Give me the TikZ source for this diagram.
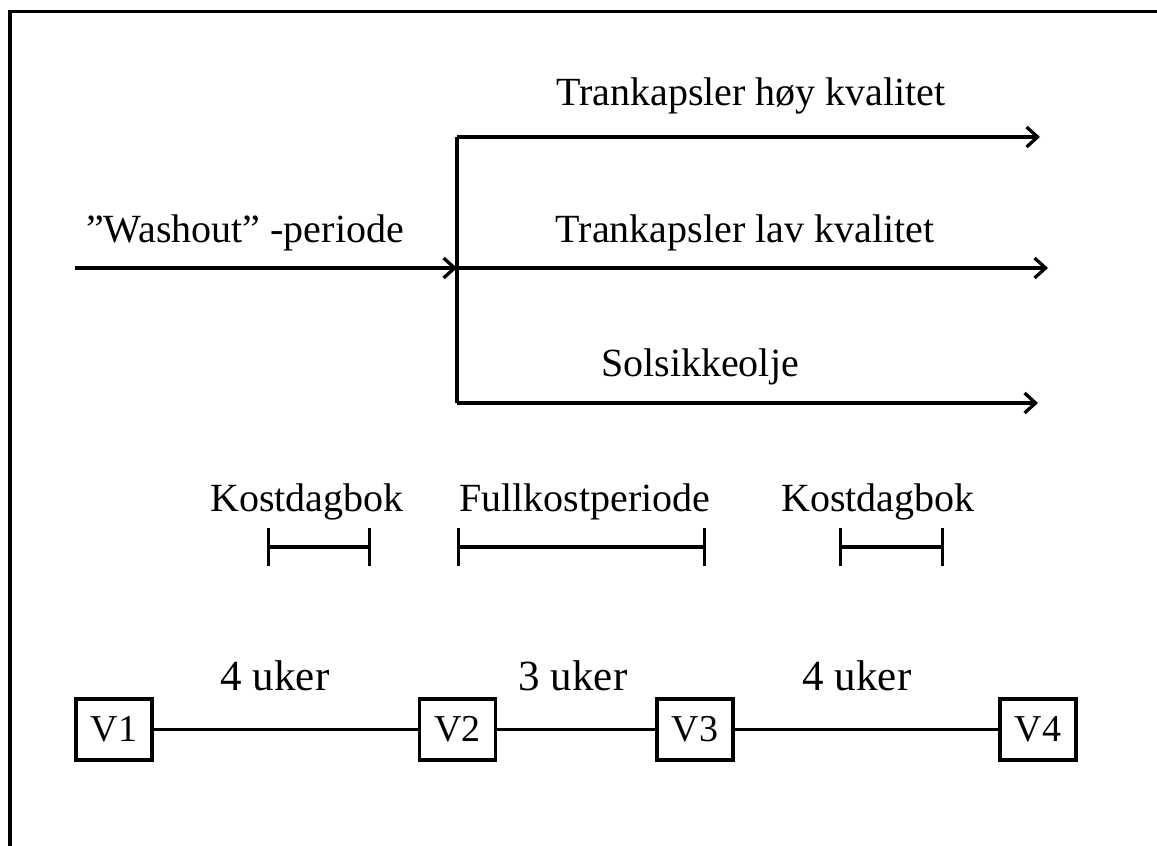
\documentclass[tikz,border=0pt]{standalone}
\usepackage{fontspec}
\setmainfont{Liberation Serif}
\usetikzlibrary{arrows.meta}
\begin{document}
\begin{tikzpicture}[x=1pt,y=-1pt,
  ln/.style={line width=3.3pt},
  arr/.style={line width=3.3pt,-{Straight Barb[length=11pt,width=20pt]}},
  lbl/.style={font=\fontsize{40}{48}\selectfont,anchor=base,inner sep=0pt},
  big/.style={font=\fontsize{43}{50}\selectfont,anchor=base,inner sep=0pt},
  vbox/.style={draw,line width=3.3pt,minimum width=76pt,minimum height=61pt,inner sep=0pt,font=\fontsize{38}{44}\selectfont},
  bar/.style={line width=3.3pt,{Bar[width=38pt]}-{Bar[width=38pt]}}
]
\useasboundingbox (0,0) rectangle (1157,846);
% frame
\coordinate (fb) at (10,850);
\coordinate (ft) at (10,11.5);
\coordinate (fr) at (1160,11.5);
\draw[line width=3.5pt] (fb) -- (ft) -- (fr);

% washout and branches
\coordinate (ws) at (75,268);
\coordinate (bm) at (457,268);
\coordinate (bt) at (457,137);
\coordinate (bb) at (457,403);
\coordinate (et) at (1040,137);
\coordinate (em) at (1048,268);
\coordinate (eb) at (1038,403);
\draw[arr] (ws) -- (bm);
\draw[ln] (bt) -- (bb);
\draw[arr] (bt) -- (et);
\draw[arr] (bm) -- (em);
\draw[arr] (bb) -- (eb);

\node[lbl] (wash) at (245,242) {”Washout” -periode};
\node[lbl] (tr1) at (751,105) {Trankapsler høy kvalitet};
\node[lbl] (tr2) at (745,242) {Trankapsler lav kvalitet};
\node[lbl] (sol) at (700,376) {Solsikkeolje};

% diet periods
\node[lbl] (k1) at (307,511) {Kostdagbok};
\node[lbl] (fk) at (585,511) {Fullkostperiode};
\node[lbl] (k2) at (878,511) {Kostdagbok};
\coordinate (k1a) at (267,547);
\coordinate (k1b) at (371,547);
\coordinate (fka) at (457,547);
\coordinate (fkb) at (706,547);
\coordinate (k2a) at (839,547);
\coordinate (k2b) at (944,547);
\draw[bar] (k1a) -- (k1b);
\draw[bar] (fka) -- (fkb);
\draw[bar] (k2a) -- (k2b);

% timeline
\node[vbox] (v1) at (114,729.5) {V1};
\node[vbox] (v2) at (457.5,729.5) {V2};
\node[vbox] (v3) at (695,729.5) {V3};
\node[vbox] (v4) at (1038,729.5) {V4};
\draw[ln] (v1) -- (v2);
\draw[ln] (v2) -- (v3);
\draw[ln] (v3) -- (v4);
\node[big] (u1) at (275,690) {4 uker};
\node[big] (u2) at (573,690) {3 uker};
\node[big] (u3) at (857,690) {4 uker};
\end{tikzpicture}
\end{document}
